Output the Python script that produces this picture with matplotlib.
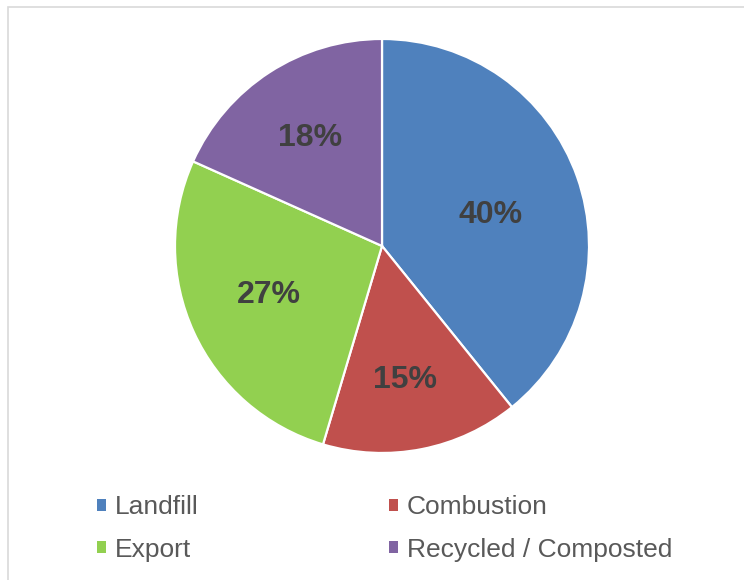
import numpy as np
import matplotlib
matplotlib.use('Agg')
import matplotlib.pyplot as plt
from matplotlib.patches import Rectangle, Patch

plt.rcParams['font.family'] = ['Liberation Sans', 'DejaVu Sans']

# 数据 (wedge sizes, labels as printed)
labels = ['Landfill', 'Combustion', 'Export', 'Recycled / Composted']
shares = [39.2, 15.4, 27.1, 18.3]
pct_labels = ['40%', '15%', '27%', '18%']
colors = ['#4F81BD', '#C0504D', '#92D050', '#8064A2']
label_r = [0.55, 0.64, 0.59, 0.64]   # 标签离圆心的距离
label_da = [-2, -1, -3, 0]           # 标签角度微调(度)

fig = plt.figure(figsize=(7.44, 5.80), dpi=100, facecolor='white')

# 外框 (only top and left edges visible)
fig.patches.append(Rectangle((8 / 744, -0.05), 1.0, 1 - 7 / 580 + 0.05,
                             transform=fig.transFigure, fill=False,
                             edgecolor='#d9d9d9', linewidth=1.2))

ax = fig.add_axes([0.2352, 0.2190, 0.5565, 0.7138])
wedges, _ = ax.pie(shares, colors=colors, startangle=90, counterclock=False,
                   wedgeprops=dict(edgecolor='white', linewidth=1.6))
for w, txt, r, da in zip(wedges, pct_labels, label_r, label_da):
    ang = np.deg2rad((w.theta1 + w.theta2) / 2 + da)
    ax.text(r * np.cos(ang), r * np.sin(ang), txt, ha='center',
            va='center_baseline',
            color='#404040', fontsize=23, fontweight='bold')
ax.set_xlim(-1, 1)
ax.set_ylim(-1, 1)
ax.set_aspect('equal')

# 图例按行排列
order = [0, 2, 1, 3]
handles = [Patch(facecolor=colors[i], edgecolor='none') for i in order]
fig.legend(handles, [labels[i] for i in order], ncol=2, loc='upper left',
           bbox_to_anchor=(84 / 744, 1 - 482 / 580),
           frameon=False, fontsize=19.0, labelcolor='#595959',
           handlelength=0.34, handleheight=0.34, handletextpad=0.34,
           columnspacing=7.2, labelspacing=0.70, borderpad=0)

fig.savefig('out.png', dpi=100, facecolor='white')
